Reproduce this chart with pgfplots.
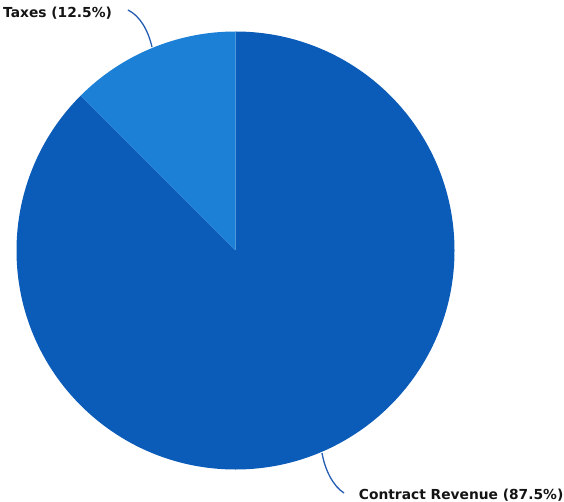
\documentclass[border=0pt]{standalone}
\usepackage{fontspec}
\setmainfont{DejaVu Sans}
\usepackage{pgfplots}
\usepackage{pgfplotstable}
\pgfplotsset{compat=1.18}
\definecolor{contract}{RGB}{11,91,184}
\definecolor{taxes}{RGB}{28,128,214}
\definecolor{leader}{RGB}{35,92,178}
\definecolor{labeltext}{RGB}{20,20,20}
\pgfplotstableread{
category value
Contract 87.5
Taxes 12.5
}\piedata
\begin{document}
\begin{tikzpicture}
\pgfplotstablegetelem{0}{value}\of\piedata \let\valA\pgfplotsretval
\pgfplotstablegetelem{1}{value}\of\piedata \let\valB\pgfplotsretval
\pgfmathsetmacro\endA{90-3.6*\valA}
\pgfmathsetmacro\endB{90+3.6*\valB}
\begin{axis}[
  hide axis, scale only axis,
  width=564pt, height=502pt,
  xmin=0, xmax=564, ymin=0, ymax=502,
  y dir=reverse, clip=false,
]
\path[use as bounding box] (axis cs:0,0) rectangle (axis cs:564,502);
\fill[contract] (axis cs:235.5,250.5) -- (axis cs:235.5,31.5) arc[start angle=90, end angle=\endA, radius=219pt] -- cycle;
\fill[taxes] (axis cs:235.5,250.5) -- (axis cs:235.5,31.5) arc[start angle=90, end angle=\endB, radius=219pt] -- cycle;
\draw[leader, line width=1.3pt] (axis cs:128,10) .. controls (axis cs:140,16) and (axis cs:148,30) .. (axis cs:152,47);
\draw[leader, line width=1.3pt] (axis cs:322,453) .. controls (axis cs:325,470) and (axis cs:333,486) .. (axis cs:344,493);
\node[anchor=base west, inner sep=0pt, text=labeltext, font=\fontsize{13.8}{16}\selectfont\bfseries] at (axis cs:3,18) {Taxes (12.5\%)};
\node[anchor=base east, inner sep=0pt, text=labeltext, font=\fontsize{13.8}{16}\selectfont\bfseries] at (axis cs:563.5,499) {Contract Revenue (87.5\%)};
\end{axis}
\end{tikzpicture}
\end{document}
